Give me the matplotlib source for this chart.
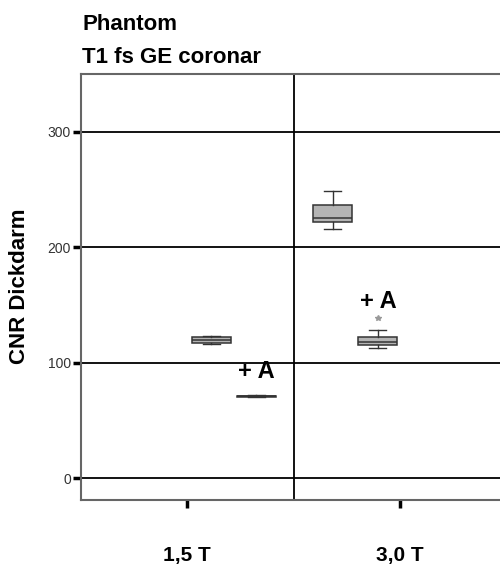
import numpy as np
import matplotlib
matplotlib.use('Agg')
import matplotlib.pyplot as plt

plt.rcParams['font.family'] = ['Liberation Sans', 'DejaVu Sans']

# data
categories = ['1,5 T', '3,0 T']
groups = ['', '+ A']
yticks = [0, 100, 200, 300]

# five-number summaries per box: [min, q1, median, q3, max]
box_15 = [116.6, 117.5, 119.5, 122.3, 123.5]
box_15_a = [70, 70.5, 71, 71.5, 72]
box_30 = [216, 221.5, 225, 236.5, 249]
box_30_a = [112.5, 115, 118, 122, 128]
outliers_30_a = [138.5]

BOXW = 0.183
offsets = {0: [0.113, 0.324], 1: [-0.315, -0.103]}
edge = '#333333'
face = '#b4b4b4'

def stats(v, label, fl=()):
    return dict(whislo=v[0], q1=v[1], med=v[2], q3=v[3], whishi=v[4],
                fliers=list(fl), label=label)

fig = plt.figure(figsize=(5, 5.67), dpi=100)
ax = fig.add_axes([0.162, 0.118, 0.85, 0.7513])

for y in yticks:
    ax.axhline(y, color='black', lw=1.3, zorder=1)
ax.axvline(0.5, color='black', lw=1.3, zorder=1)

all_stats = [stats(box_15, ''), stats(box_15_a, '+ A'),
             stats(box_30, ''), stats(box_30_a, '+ A', outliers_30_a)]
pos = [0 + offsets[0][0], 0 + offsets[0][1], 1 + offsets[1][0], 1 + offsets[1][1]]

ax.bxp(all_stats, positions=pos, widths=BOXW, capwidths=0.08, patch_artist=True,
       boxprops=dict(facecolor=face, edgecolor=edge, lw=1.1),
       medianprops=dict(color=edge, lw=1.1),
       whiskerprops=dict(color=edge, lw=1.0),
       capprops=dict(color=edge, lw=1.0),
       flierprops=dict(marker='*', markersize=4, markerfacecolor='#999999',
                       markeredgecolor='#999999'),
       manage_ticks=False, zorder=3)

# "+ A" markers above the second box of each group
ax.text(pos[1], 92.5, '+ A', ha='center', va='center', fontsize=17, fontweight='bold')
ax.text(pos[3], 153, '+ A', ha='center', va='center', fontsize=17, fontweight='bold')

ax.set_xlim(-0.5, 1.5)
ax.set_ylim(-19, 350)
ax.set_yticks(yticks)
ax.set_yticklabels([str(t) for t in yticks], fontsize=10, color='#333333')
ax.set_xticks([0, 1])
ax.set_xticklabels(categories, fontsize=15, fontweight='bold')
ax.tick_params(axis='y', length=5.8, width=2.5, color='black', pad=1.5)
ax.tick_params(axis='x', length=5.8, width=2.5, color='black', pad=27)

for s in ax.spines.values():
    s.set_color('#666666')
    s.set_linewidth(1.5)

fig.text(20 / 500, 1 - 286 / 567, 'CNR Dickdarm', rotation=90, ha='center', va='center',
         fontsize=16, fontweight='bold')
fig.text(0.164, 1 - 30 / 567, 'Phantom', fontsize=16, fontweight='bold', va='baseline')
fig.text(0.164, 1 - 63 / 567, 'T1 fs GE coronar', fontsize=16, fontweight='bold', va='baseline')

fig.savefig('out.png', dpi=100)
